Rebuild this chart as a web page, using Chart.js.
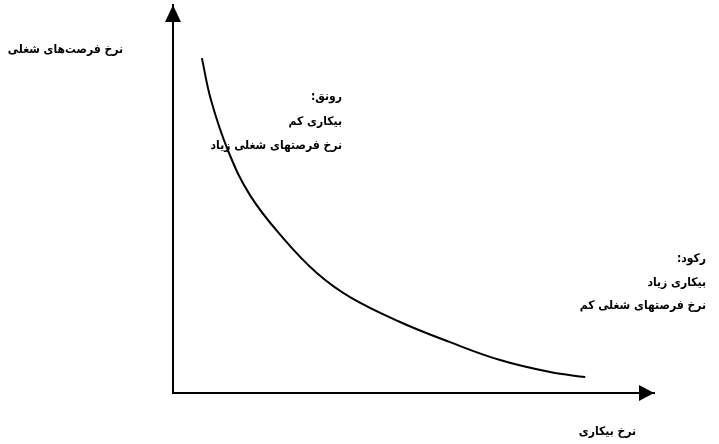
<!DOCTYPE html>
<html>
<head>
<meta charset="utf-8">
<script src="https://cdn.jsdelivr.net/npm/chart.js@4.4.1/dist/chart.umd.min.js"></script>
<style>
  html, body { margin: 0; padding: 0; background: #fff; }
  #wrap { width: 719px; height: 444px; }
</style>
</head>
<body>
<div id="wrap"><canvas id="curve"></canvas></div>
<script>
// unemployment rate (x) vs job vacancy rate (y), arbitrary 0-100 units
const unemployment = [6, 7.9, 11.4, 16, 22.9, 29.9, 36.8, 47.2, 57.6, 68, 78.4, 85.7];
const vacancies = [86.3, 75.5, 62.6, 51, 39.9, 30.9, 24.7, 18.3, 13.1, 8.5, 5.4, 4.1];

const yAxisTitle = 'نرخ فرصت‌های شغلی';
const xAxisTitle = 'نرخ بیکاری';
const boomLines = ['رونق:', 'بیکاری کم', 'نرخ فرصتهای شغلی زیاد'];
const recessionLines = ['رکود:', 'بیکاری زیاد', 'نرخ فرصتهای شغلی کم'];

const FONT = 'bold 12px "DejaVu Sans Condensed", "DejaVu Sans", sans-serif';

// arrows on the axis ends + the persian labels
const annotations = {
  id: 'annotations',
  afterDraw(chart) {
    const { ctx, chartArea } = chart;
    const left = chartArea.left, bottom = chartArea.bottom;
    ctx.save();
    ctx.fillStyle = '#000';
    // y arrow head
    ctx.beginPath();
    ctx.moveTo(left, chartArea.top);
    ctx.lineTo(left - 8, chartArea.top + 17);
    ctx.lineTo(left + 8, chartArea.top + 17);
    ctx.closePath();
    ctx.fill();
    // x arrow head
    ctx.beginPath();
    ctx.moveTo(chartArea.right, bottom);
    ctx.lineTo(chartArea.right - 15, bottom - 8);
    ctx.lineTo(chartArea.right - 15, bottom + 8);
    ctx.closePath();
    ctx.fill();

    ctx.font = FONT;
    ctx.direction = 'rtl';
    ctx.textAlign = 'right';
    ctx.textBaseline = 'middle';
    ctx.fillText(yAxisTitle, 123, 50);
    ctx.fillText(xAxisTitle, 636, 432);
    boomLines.forEach((t, i) => ctx.fillText(t, 342, 97 + i * 24.5));
    recessionLines.forEach((t, i) => ctx.fillText(t, 706, 259 + i * 23.5));
    ctx.restore();
  }
};

new Chart(document.getElementById('curve'), {
  type: 'line',
  data: {
    datasets: [{
      data: unemployment.map((u, i) => ({ x: u, y: vacancies[i] })),
      borderColor: '#000',
      borderWidth: 2,
      pointRadius: 0,
      fill: false,
      tension: 0.4,
    }]
  },
  options: {
    responsive: true,
    maintainAspectRatio: false,
    animation: false,
    layout: { padding: { left: 165, right: 65, top: 5, bottom: 43 } },
    plugins: { legend: { display: false }, tooltip: { enabled: false } },
    scales: {
      x: {
        type: 'linear', min: 0, max: 100,
        grid: { display: false },
        ticks: { display: false },
        border: { display: true, color: '#000', width: 2 },
      },
      y: {
        min: 0, max: 100,
        grid: { display: false },
        ticks: { display: false },
        border: { display: true, color: '#000', width: 2 },
      }
    }
  },
  plugins: [annotations]
});
</script>
</body>
</html>
